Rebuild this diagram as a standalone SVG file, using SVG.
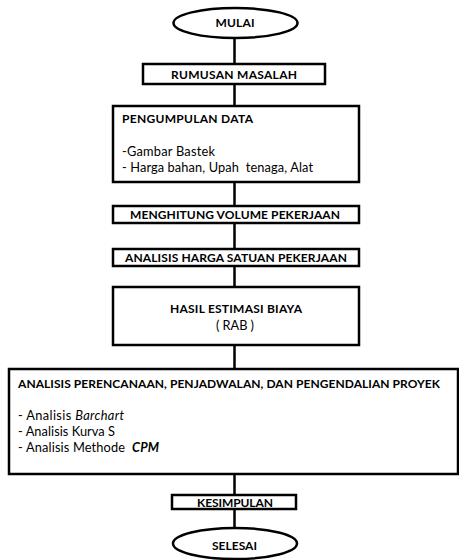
<svg xmlns="http://www.w3.org/2000/svg" width="459" height="560" viewBox="0 0 459 560">
<style>
.shape{fill:#fff;stroke:#000;stroke-width:2.5}
.conn{stroke:#000;stroke-width:2.5;fill:none}
text{font-family:Lato,"Liberation Sans",sans-serif;font-size:12px;fill:#000}
.r{font-size:12.8px}
.b{font-weight:bold}
.c{text-anchor:middle}
</style>
<rect width="459" height="560" fill="#fff"/>
<g id="connectors">
<line class="conn" x1="234.5" y1="38" x2="234.5" y2="64"/>
<line class="conn" x1="234.5" y1="84" x2="234.5" y2="106"/>
<line class="conn" x1="234.5" y1="182" x2="234.5" y2="206"/>
<line class="conn" x1="234.5" y1="223" x2="234.5" y2="249"/>
<line class="conn" x1="234.5" y1="266" x2="234.5" y2="287"/>
<line class="conn" x1="234.5" y1="345" x2="234.5" y2="369"/>
<line class="conn" x1="234.5" y1="474" x2="234.5" y2="495"/>
<line class="conn" x1="234.5" y1="509" x2="234.5" y2="528"/>
</g>
<g id="mulai">
<ellipse class="shape" cx="235.5" cy="23" rx="62" ry="15"/>
<text class="b c" x="235" y="27" textLength="39">MULAI</text>
</g>
<g id="rumusan">
<rect class="shape" x="143" y="64" width="182" height="20"/>
<text class="b c" x="234" y="78.5" textLength="126">RUMUSAN MASALAH</text>
</g>
<g id="pengumpulan">
<rect class="shape" x="113" y="106" width="246" height="76"/>
<text class="b" x="122" y="122.5" textLength="131">PENGUMPULAN DATA</text>
<text class="r" x="122" y="155.5" textLength="93">-Gambar Bastek</text>
<text class="r" x="122" y="171.5" textLength="191" xml:space="preserve">- Harga bahan, Upah  tenaga, Alat</text>
</g>
<g id="menghitung">
<rect class="shape" x="113" y="206" width="246" height="17"/>
<text class="b c" x="235" y="219" textLength="210">MENGHITUNG VOLUME PEKERJAAN</text>
</g>
<g id="analisis-harga">
<rect class="shape" x="113" y="249" width="246" height="17"/>
<text class="b c" x="236" y="262" textLength="222">ANALISIS HARGA SATUAN PEKERJAAN</text>
</g>
<g id="hasil">
<rect class="shape" x="113" y="287" width="246" height="58"/>
<text class="b c" x="236" y="312.5" textLength="132">HASIL ESTIMASI BIAYA</text>
<text class="r c" x="235" y="329.5" textLength="38">( RAB )</text>
</g>
<g id="analisis-perencanaan">
<rect class="shape" x="9" y="369" width="449" height="105"/>
<text class="b" x="18" y="387.5" textLength="422">ANALISIS PERENCANAAN, PENJADWALAN, DAN PENGENDALIAN PROYEK</text>
<text class="r" x="18" y="419.5" textLength="106">- Analisis <tspan font-style="italic">Barchart</tspan></text>
<text class="r" x="18" y="435.5" textLength="97">- Analisis Kurva S</text>
<text class="r" x="18" y="451.5" textLength="141" xml:space="preserve">- Analisis Methode  <tspan font-style="italic" font-weight="bold">CPM</tspan></text>
</g>
<g id="kesimpulan">
<rect class="shape" x="172" y="495" width="124" height="14"/>
<text class="b c" x="235" y="506.5" textLength="76">KESIMPULAN</text>
</g>
<g id="selesai">
<ellipse class="shape" cx="235" cy="543.5" rx="62" ry="15.5"/>
<text class="b c" x="234.5" y="550" textLength="45">SELESAI</text>
</g>
</svg>
